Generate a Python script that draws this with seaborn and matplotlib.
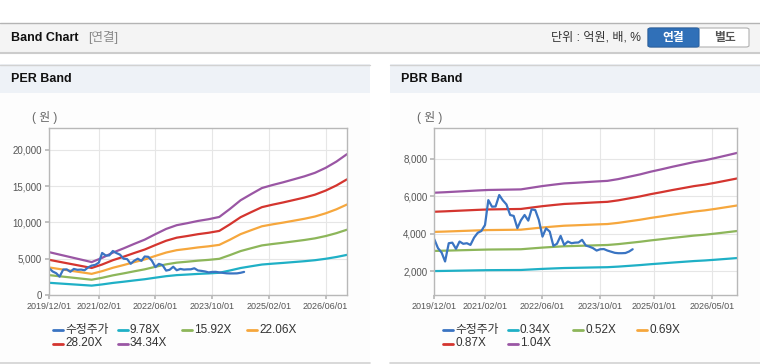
import pandas as pd
import matplotlib
matplotlib.use("Agg")
import matplotlib.pyplot as plt
from matplotlib.patches import Rectangle, FancyBboxPatch
from matplotlib.lines import Line2D
from matplotlib.ticker import FuncFormatter
import seaborn as sns

sns.set_theme(style="white")
plt.rcParams['font.family'] = ['Liberation Sans', 'Noto Sans CJK KR', 'DejaVu Sans']

# === Data ===
band_dates = pd.date_range("2019-12-01", "2026-12-01", freq="3MS")
price_dates = pd.date_range("2019-12-01", periods=56, freq="MS")

# adjusted price (수정주가), monthly
price = [3710, 3240, 3000, 2530, 3500, 3530, 3200, 3590, 3470, 3500,
         3410, 3800, 4050, 4150, 4470, 5790, 5440, 5450, 6060, 5780,
         5560, 5000, 4950, 4300, 4720, 5000, 4700, 5300, 5260, 4740,
         3850, 4290, 4120, 3360, 3470, 3890, 3410, 3590, 3500, 3530,
         3540, 3680, 3380, 3320, 3240, 3110, 3180, 3190, 3110, 3050,
         2990, 2970, 2970, 2980, 3060, 3180]

# EPS / BPS per quarter (bands = multiple x base)
eps = [172, 162, 152, 142, 132, 149, 170, 187, 205, 222, 244, 265, 280, 288, 297,
       304, 313, 345, 380, 405, 429, 441, 452, 464, 476, 490, 510, 535, 565]
bps = [5945, 5970, 6000, 6030, 6060, 6085, 6095, 6105, 6115, 6200, 6285, 6355, 6420, 6450, 6485,
       6520, 6550, 6640, 6760, 6880, 7020, 7140, 7270, 7390, 7510, 7600, 7720, 7850, 7980]

per_mult = [9.78, 15.92, 22.06, 28.20, 34.34]
pbr_mult = [0.34, 0.52, 0.69, 0.87, 1.04]
per_labels = ["수정주가", "9.78X", "15.92X", "22.06X", "28.20X", "34.34X"]
pbr_labels = ["수정주가", "0.34X", "0.52X", "0.69X", "0.87X", "1.04X"]

per_xticks = ["2019-12-01", "2021-02-01", "2022-06-01", "2023-10-01", "2025-02-01", "2026-06-01"]
pbr_xticks = ["2019-12-01", "2021-02-01", "2022-06-01", "2023-10-01", "2025-01-01", "2026-05-01"]
per_yticks = [0, 5000, 10000, 15000, 20000]
pbr_yticks = [2000, 4000, 6000, 8000]

price_color = "#3a74c2"
band_colors = ["#1fb0c6", "#8db65a", "#f6a73d", "#d4352f", "#9a56a4"]

W, H = 760, 364
fig = plt.figure(figsize=(W / 100, H / 100), dpi=100)
fig.patch.set_facecolor("white")


def fx(x):
    return x / W


def fy(y):
    return 1 - y / H


def rect(x0, y0, x1, y1, **kw):
    fig.add_artist(Rectangle((fx(x0), fy(y1)), fx(x1) - fx(x0), fy(y0) - fy(y1),
                             transform=fig.transFigure, zorder=-10, **kw))


def hline(x0, x1, y, **kw):
    fig.add_artist(Line2D([fx(x0), fx(x1)], [fy(y), fy(y)], transform=fig.transFigure,
                          zorder=-5, **kw))


# === Top header bar ===
rect(0, 23, W, 52, facecolor="#f4f4f4", edgecolor="none")
hline(0, W, 22.5, color="#b4b4b4", lw=1)
hline(0, W, 52.8, color="#cccccc", lw=1.5)
fig.text(fx(11), fy(38), "Band Chart", fontsize=9, fontweight="bold", va="center", color="#111111")
fig.text(fx(88), fy(38), "[연결]", fontsize=9, va="center", color="#8a8a8a")
fig.text(fx(641), fy(38), "단위 : 억원, 배, %", fontsize=8.7, ha="right", va="center", color="#333333")
fig.add_artist(FancyBboxPatch((fx(648), fy(47)), fx(101), 19 / H, boxstyle="round,pad=0,rounding_size=0.004",
                              transform=fig.transFigure, facecolor="white", edgecolor="#b0b0b0", lw=0.8))
fig.add_artist(FancyBboxPatch((fx(648), fy(47)), fx(51), 19 / H, boxstyle="round,pad=0,rounding_size=0.004",
                              transform=fig.transFigure, facecolor="#3070b8", edgecolor="#2a62a3", lw=0.8))
fig.text(fx(673.5), fy(37.5), "연결", fontsize=8.5, fontweight="bold", ha="center", va="center", color="white")
fig.text(fx(724.5), fy(37.5), "별도", fontsize=8.5, fontweight="bold", ha="center", va="center", color="#555555")

# === Panels ===
for x0, x1, title in [(0, 370, "PER Band"), (390, W, "PBR Band")]:
    rect(x0, 93, x1, 362, facecolor="#fdfdfd", edgecolor="none")
    rect(x0, 64, x1, 93, facecolor="#eef2f7", edgecolor="none")
    hline(x0, x1, 64.5, color="#d2d2d2", lw=1)
    hline(x0, x1, 362.5, color="#d2d2d2", lw=1.2)
    fig.text(fx(x0 + 11), fy(79), title, fontsize=9, fontweight="bold", va="center", color="#111111")


def band_panel(left, right, base, mults, xticks, xlabels, yticks, ylim, unit_x, leg_x, labels):
    ax = fig.add_axes([fx(left), fy(295), fx(right) - fx(left), (295 - 128) / H])
    ax.set_facecolor("white")
    for m, c in zip(mults, band_colors):
        sns.lineplot(x=band_dates, y=[m * b for b in base], color=c, lw=1.6, ax=ax, legend=False)
    sns.lineplot(x=price_dates, y=price, color=price_color, lw=1.6, ax=ax, legend=False)
    ax.set_xlim(pd.Timestamp("2019-12-01"), pd.Timestamp("2026-12-01"))
    ax.set_ylim(*ylim)
    ax.set_xticks(pd.to_datetime(xticks))
    ax.set_xticklabels(xlabels)
    ax.set_yticks(yticks)
    ax.yaxis.set_major_formatter(FuncFormatter(lambda v, p: f"{int(v):,}"))
    ax.set_xlabel("")
    ax.set_ylabel("")
    ax.grid(True, color="#e6e6e6", lw=0.8)
    ax.set_axisbelow(True)
    for s in ax.spines.values():
        s.set_color("#b8b8b8")
        s.set_linewidth(1)
    ax.tick_params(axis="both", length=3, color="#b8b8b8", labelcolor="#555555", pad=2)
    ax.tick_params(axis="x", labelsize=6.5, bottom=True)
    ax.tick_params(axis="y", labelsize=7, left=True)
    fig.text(fx(unit_x), fy(118), "( 원 )", fontsize=8.5, va="center", color="#666666")

    # legend laid out row by row, 4 per row
    colors = [price_color] + band_colors
    for i, (lab, col) in enumerate(zip(labels, colors)):
        r, c = divmod(i, 4)
        y = [330, 343.5][r]
        x0 = leg_x[c]
        fig.add_artist(Line2D([fx(x0), fx(x0 + 10)], [fy(y), fy(y)], color=col, lw=2,
                              transform=fig.transFigure))
        fig.text(fx(x0 + 12), fy(y), lab, fontsize=8.5, va="center", color="#333333")
    return ax


band_panel(49, 347, eps, per_mult, per_xticks, [d.replace("-", "/") for d in per_xticks],
           per_yticks, (0, 23000), 32, [53, 118, 182, 247], per_labels)
band_panel(434.3, 737.3, bps, pbr_mult, pbr_xticks, [d.replace("-", "/") for d in pbr_xticks],
           pbr_yticks, (750, 9620), 417, [443, 508, 573, 637], pbr_labels)

plt.savefig("out.png", dpi=100)
